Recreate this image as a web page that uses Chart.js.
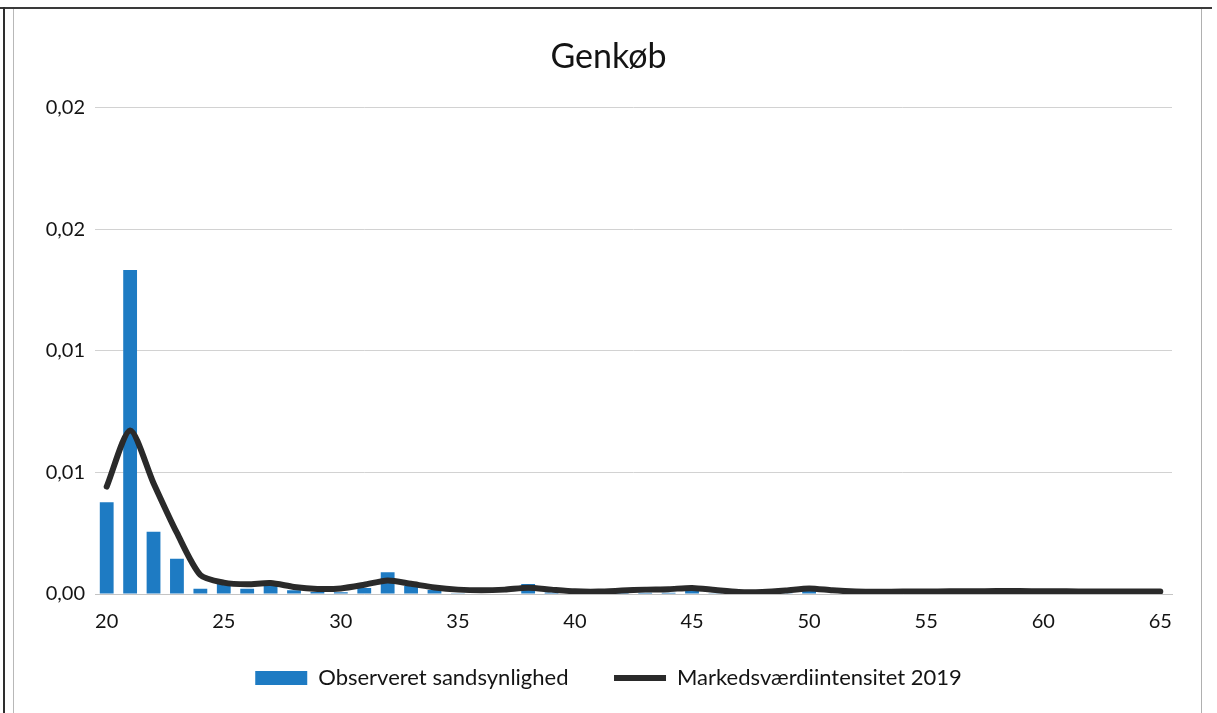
<!DOCTYPE html>
<html lang="da">
<head>
<meta charset="utf-8">
<title>Genkøb</title>
<script src="https://cdn.jsdelivr.net/npm/chart.js@4/dist/chart.umd.min.js"></script>
<style>
  html, body { margin: 0; padding: 0; background: #ffffff; }
  #wrap { position: relative; width: 1217px; height: 713px; overflow: hidden; background: #ffffff; }
  #chartBox { position: absolute; left: 0; top: 0; width: 1217px; height: 713px; }
  .frame { position: absolute; }
  #frameTop { left: 0; top: 7px; width: 1212px; height: 2px; background: #3a3a3a; }
  #frameLeftDark { left: 3px; top: 7px; width: 2px; height: 706px; background: #2e2e2e; }
  #frameLeftLight { left: 13px; top: 9px; width: 1px; height: 704px; background: #b8b8b8; }
  #frameRight { left: 1201px; top: 9px; width: 1px; height: 704px; background: #b0b0b0; }
</style>
</head>
<body>
<div id="wrap">
  <div class="frame" id="frameTop"></div>
  <div class="frame" id="frameLeftDark"></div>
  <div class="frame" id="frameLeftLight"></div>
  <div class="frame" id="frameRight"></div>
  <div id="chartBox"><canvas id="chart"></canvas></div>
</div>
<script>
// Ages on the category axis
const ages = [20,21,22,23,24,25,26,27,28,29,30,31,32,33,34,35,36,37,38,39,40,41,42,
              43,44,45,46,47,48,49,50,51,52,53,54,55,56,57,58,59,60,61,62,63,64,65];

// Observed probability per age
const observed = [0.00377,0.01333,0.00256,0.00145,0.00022,0.00041,0.00022,0.00049,0.00015,0.00008,
                  0.00007,0.00025,0.00089,0.00033,0.00016,0.00003,0.00002,0.00002,0.00041,0.00006,
                  0.00003,0.00003,0.00005,0.00005,0.00005,0.00018,0.00003,0.00002,0.00002,0.00003,
                  0.00033,0.00002,0.00002,0.00002,0.00002,0.00002,0.00002,0.00002,0.00002,0.00002,
                  0.00002,0.00002,0.00002,0.00002,0.00002,0.00002];

// Market value intensity 2019 per age
const intensity = [0.00442,0.00673,0.00456,0.00251,0.00078,0.00047,0.00040,0.00045,0.00029,0.00021,
                   0.00023,0.00038,0.00056,0.00042,0.00027,0.00018,0.00015,0.00018,0.00026,0.00018,
                   0.00011,0.00010,0.00014,0.00018,0.00020,0.00025,0.00016,0.00008,0.00008,0.00014,
                   0.00023,0.00015,0.00010,0.00009,0.00010,0.00010,0.00011,0.00011,0.00012,0.00012,
                   0.00011,0.00011,0.00010,0.00010,0.00010,0.00010];

// Y tick values and their printed labels (two decimals, Danish comma)
const yTickValues = [0, 0.005, 0.01, 0.015, 0.02];
const yTickLabels = ['0,00', '0,01', '0,01', '0,02', '0,02'];

const seriesNames = ['Observeret sandsynlighed', 'Markedsværdiintensitet 2019'];
const chartTitle = 'Genkøb';

const FONT = 'Lato, "Open Sans", "DejaVu Sans", sans-serif';
const TEXT = '#141414';
const BLUE = '#1e7bc3';
const DARK = '#2a2a2a';

new Chart(document.getElementById('chart'), {
  type: 'bar',
  data: {
    labels: ages,
    datasets: [
      {
        type: 'bar',
        label: seriesNames[0],
        data: observed,
        backgroundColor: BLUE,
        borderWidth: 0,
        barPercentage: 0.59,
        categoryPercentage: 1.0,
        order: 2
      },
      {
        type: 'line',
        label: seriesNames[1],
        data: intensity,
        borderColor: DARK,
        backgroundColor: DARK,
        borderWidth: 6,
        borderCapStyle: 'round',
        borderJoinStyle: 'round',
        pointRadius: 0,
        pointHoverRadius: 0,
        tension: 0.25,
        fill: false,
        order: 1
      }
    ]
  },
  options: {
    responsive: true,
    maintainAspectRatio: false,
    animation: false,
    layout: { padding: { left: 0, right: 0, top: 0, bottom: 14 } },
    plugins: {
      title: {
        display: true,
        text: chartTitle,
        color: TEXT,
        font: { family: FONT, size: 34, weight: 'normal', lineHeight: 1.2 },
        padding: { top: 37, bottom: 30 }
      },
      legend: {
        position: 'bottom',
        labels: {
          color: TEXT,
          font: { family: FONT, size: 22 },
          usePointStyle: true,
          pointStyleWidth: 52,
          boxHeight: 14,
          padding: 29,
          sort: (a, b) => a.datasetIndex - b.datasetIndex,
          generateLabels: (chart) => {
            const items = Chart.defaults.plugins.legend.labels.generateLabels(chart);
            items.forEach(it => {
              if (it.datasetIndex === 0) {
                it.pointStyle = 'rect';
                // wider gap before the second entry
                it.text = it.text + '\u2003';
              } else {
                it.pointStyle = 'line';
                it.lineWidth = 6;
                it.strokeStyle = DARK;
              }
            });
            return items;
          }
        }
      },
      tooltip: { enabled: false }
    },
    scales: {
      x: {
        offset: true,
        grid: { display: false, drawTicks: false },
        border: { display: true, color: '#c4c4c4', width: 1 },
        ticks: {
          autoSkip: false,
          maxRotation: 0,
          minRotation: 0,
          padding: 16,
          color: TEXT,
          font: { family: FONT, size: 20 },
          callback: function (value, index) {
            const age = ages[index];
            return age % 5 === 0 ? String(age) : null;
          }
        },
        afterFit: (scale) => { scale.height = 44; }
      },
      y: {
        min: 0,
        max: 0.02,
        afterBuildTicks: (scale) => { scale.ticks = yTickValues.map(v => ({ value: v })); },
        grid: { color: '#d2d2d2', lineWidth: 1, drawTicks: false },
        border: { display: false },
        ticks: {
          padding: 10,
          color: TEXT,
          font: { family: FONT, size: 20 },
          callback: function (value, index) { return yTickLabels[index]; }
        },
        afterFit: (scale) => { scale.width = 95; }
      },
      // empty right-hand margin so the plot ends before the frame
      yRight: {
        position: 'right',
        display: true,
        grid: { display: false, drawTicks: false },
        border: { display: false },
        ticks: { display: false },
        afterFit: (scale) => { scale.width = 45; }
      }
    }
  }
});
</script>
</body>
</html>
